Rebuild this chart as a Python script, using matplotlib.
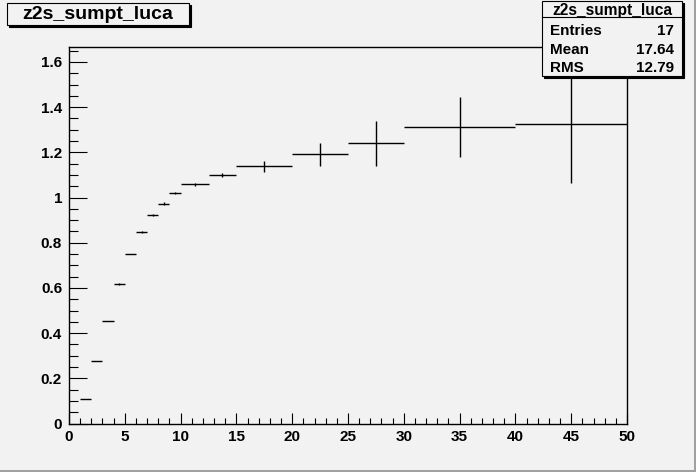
import numpy as np
import matplotlib
matplotlib.use('Agg')
import matplotlib.pyplot as plt
from matplotlib.patches import Rectangle
from matplotlib.lines import Line2D
from matplotlib.ticker import MultipleLocator, FormatStrFormatter

# histogram bins (variable width) and contents
edges = [1, 2, 3, 4, 5, 6, 7, 8, 9, 10, 12.5, 15, 20, 25, 30, 40, 50]
values = [0.107, 0.275, 0.454, 0.617, 0.750, 0.849, 0.923, 0.973, 1.019,
          1.058, 1.098, 1.138, 1.191, 1.240, 1.311, 1.325]
errors = [0.0, 0.0, 0.0, 0.004, 0.0, 0.005, 0.005, 0.006, 0.005,
          0.006, 0.009, 0.024, 0.050, 0.099, 0.132, 0.259]

hist_name = "z2s_sumpt_luca"
stats_names = ["Entries", "Mean", "RMS"]
stats_vals = ["17", "17.64", "12.79"]

W, H = 696, 472
BG = '#f2f2f2'
FONT = 'Liberation Sans'


def fx(px):
    return px / W


def fy(py):
    return 1 - py / H


fig = plt.figure(figsize=(W / 100, H / 100), dpi=100, facecolor=BG)
ax = fig.add_axes([fx(69), fy(423.5), fx(627) - fx(69), fy(47) - fy(423.5)])
ax.set_facecolor(BG)

edges = np.array(edges)
centers = (edges[:-1] + edges[1:]) / 2
halfw = (edges[1:] - edges[:-1]) / 2
ax.errorbar(centers, values, xerr=halfw, yerr=errors, fmt='none',
            ecolor='black', elinewidth=1.0, capsize=0)

ax.set_xlim(0, 50)
ax.set_ylim(0, 1.666)
ax.xaxis.set_major_locator(MultipleLocator(5))
ax.xaxis.set_minor_locator(MultipleLocator(1))
ax.yaxis.set_major_locator(MultipleLocator(0.2))
ax.yaxis.set_minor_locator(MultipleLocator(0.05))
ax.yaxis.set_major_formatter(FormatStrFormatter('%g'))
ax.tick_params(axis='y', which='major', direction='in', length=12.7, width=0.8, pad=5)
ax.tick_params(axis='y', which='minor', direction='in', length=6.3, width=0.8)
ax.tick_params(axis='x', which='major', direction='in', length=8, width=0.8, pad=5)
ax.tick_params(axis='x', which='minor', direction='in', length=4, width=0.8)
for lab in ax.get_xticklabels() + ax.get_yticklabels():
    lab.set_fontfamily(FONT)
    lab.set_fontweight('bold')
    lab.set_fontsize(11)
for s in ax.spines.values():
    s.set_linewidth(1.0)


def box(x0, y0, x1, y1):
    # shadow then box, in pixel coords
    fig.add_artist(Rectangle((fx(x0 + 2), fy(y1 + 2)), fx(x1 - x0), fy(y0) - fy(y1),
                             transform=fig.transFigure, facecolor='black',
                             edgecolor='black', lw=0.8, zorder=5))
    fig.add_artist(Rectangle((fx(x0), fy(y1)), fx(x1 - x0), fy(y0) - fy(y1),
                             transform=fig.transFigure, facecolor=BG,
                             edgecolor='black', lw=0.8, zorder=6))


# title box
box(6.5, 2.5, 189, 25)
fig.text(fx(97.5), fy(14.5), hist_name, ha='center', va='center', fontsize=14,
         fontweight='bold', family=FONT, zorder=7)

# stats box
box(542, 1, 682, 76)
fig.add_artist(Line2D([fx(542), fx(682)], [fy(17.3), fy(17.3)],
                      transform=fig.transFigure, color='black', lw=0.8, zorder=7))
fig.text(fx(612), fy(10.3), hist_name, ha='center', va='center', fontsize=11.2,
         fontweight='bold', family=FONT, zorder=7)
rows_y = [31, 50, 68]
for name, val, yy in zip(stats_names, stats_vals, rows_y):
    fig.text(fx(550), fy(yy), name, ha='left', va='center', fontsize=11,
             fontweight='bold', family=FONT, zorder=7)
    fig.text(fx(674), fy(yy), val, ha='right', va='center', fontsize=11,
             fontweight='bold', family=FONT, zorder=7)

# canvas bevel on bottom/right
fig.add_artist(Rectangle((0, 0), 1, fy(469.5), transform=fig.transFigure,
                         facecolor='#a0a0a0', edgecolor='none', zorder=8))
fig.add_artist(Rectangle((fx(693.5), 0), 1 - fx(693.5), 1, transform=fig.transFigure,
                         facecolor='#a0a0a0', edgecolor='none', zorder=8))

fig.savefig('out.png', dpi=100, facecolor=BG)
